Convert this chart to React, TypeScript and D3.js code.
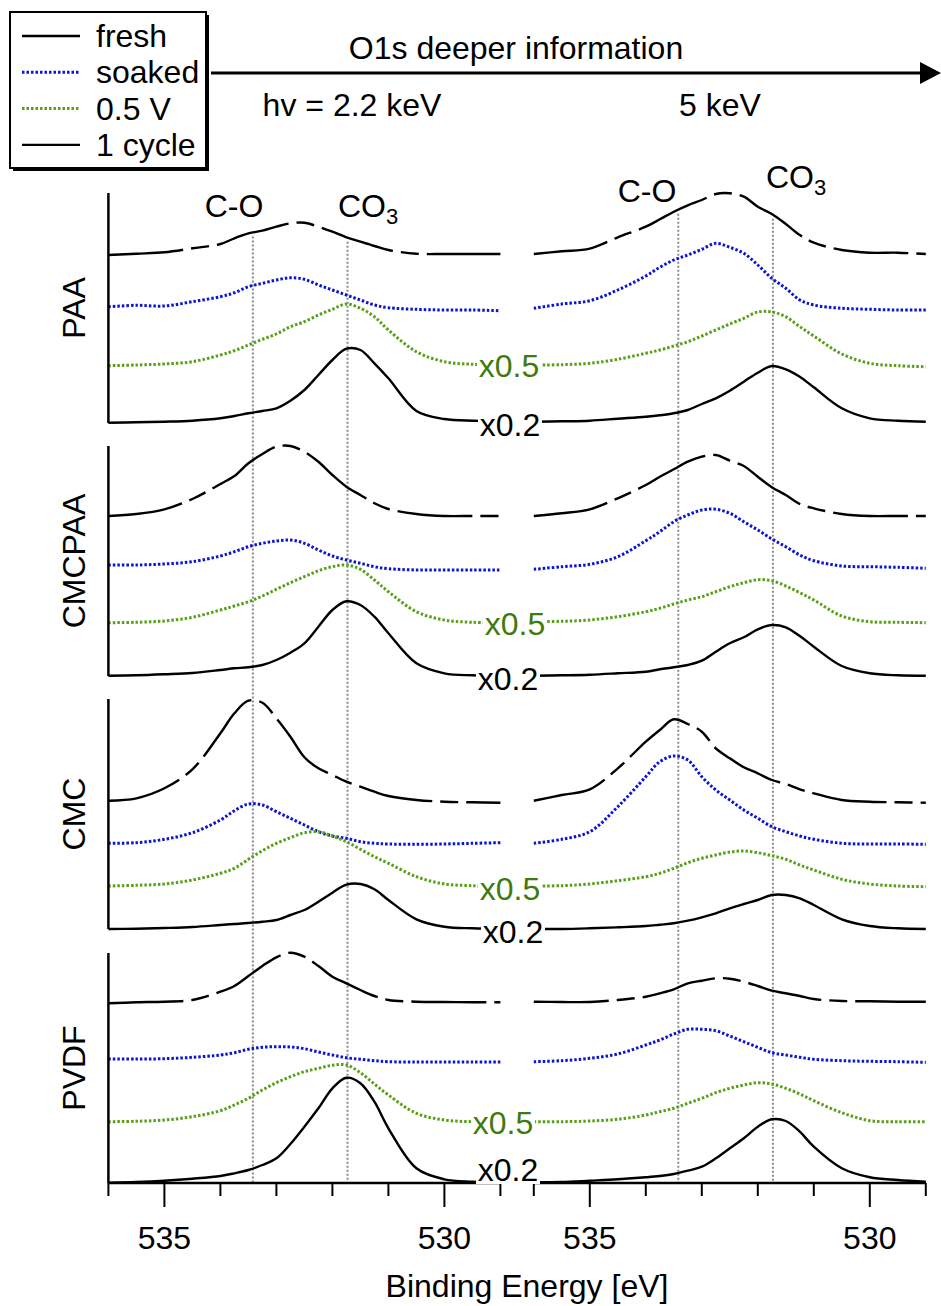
import React from 'react';
import * as d3 from 'd3';

// ---------- data ----------
const energies = [536, 535.5, 535, 534.5, 534, 533.75, 533.5, 533.25, 533, 532.75, 532.5, 532.25, 532, 531.75, 531.5, 531.25, 531, 530.5, 530, 529.5, 529];
const panelNames = ['PAA', 'CMCPAA', 'CMC', 'PVDF'];
const seriesNames = ['fresh', 'soaked', '0.5 V', '1 cycle'];
const photonLabels = ['hv = 2.2 keV', '5 keV'];
const depthLabel = 'O1s deeper information';
const xTicks = [536, 535, 534, 533, 532, 531, 530, 529];
const xMajorTicks = [535, 530];
const peakNames = ['C-O', 'CO'];
const peakEnergies = [533.42, 531.73];
const scaleLabels = ['x0.5', 'x0.2'];
const xTitle = 'Binding Energy [eV]';

// PAA, hv = 2.2 keV
const paaLowFresh = [168, 169.3, 170.7, 174.7, 179, 184.7, 189.7, 192.3, 196.3, 199.7, 200.3, 196.3, 191.3, 185.7, 181.3, 177, 173, 169.3, 169, 169, 169];
const paaLowSoaked = [116.3, 117.7, 117, 121.3, 126.3, 130.3, 136.3, 139.7, 143, 145.3, 143.7, 138, 133, 128, 123, 118, 115.3, 113.7, 113, 113, 112.3];
const paaLowV05 = [57.3, 58, 59, 61.3, 68, 72.3, 78, 83.7, 89, 96.3, 101.3, 108, 113.7, 119, 114.7, 106.3, 93, 71.3, 61.3, 58.7, 58];
const paaLowCycle = [0.3, 0.7, 1.3, 2.3, 4.7, 7, 9.7, 12, 14.7, 22.3, 33, 48, 63, 74.3, 73, 59.7, 44.7, 12, 4, 2.3, 2.3];
// PAA, 5 keV
const paaHighFresh = [169, 171.7, 174.3, 185.7, 196.3, 203.7, 211.3, 217.7, 223, 229, 229.7, 226.3, 216.3, 209, 199, 188, 180.3, 173, 170.3, 170.3, 169];
const paaHighSoaked = [114.7, 119, 122.3, 133, 147, 155.7, 163, 168, 173.7, 179.7, 175.7, 169.7, 158, 144.7, 134.7, 123, 118, 114.7, 113.7, 113, 113];
const paaHighV05 = [58, 58.3, 59.7, 63.7, 69.7, 73, 77, 81.3, 87, 93, 99, 104.7, 111, 111, 106.3, 96.3, 87, 69, 59.7, 57.3, 56.3];
const paaHighCycle = [1.3, 1.7, 2.3, 4.3, 6.3, 7.7, 9.7, 13, 19, 24.7, 32.3, 41.3, 50.3, 57, 53.7, 46.3, 35.7, 14.7, 4.7, 2.3, 1.3];
// CMCPAA, 2.2 keV
const cmcpaaLowFresh = [160, 162, 166.7, 177, 192, 200, 212.7, 222, 229.3, 230, 224.3, 214.3, 201, 189.3, 181, 172.7, 167, 162, 160, 160, 160];
const cmcpaaLowSoaked = [111, 111, 112, 114.3, 120, 124.3, 129.3, 132.7, 135, 136, 132.7, 126, 120, 116, 112.7, 109.3, 107.3, 106, 106, 106, 106];
const cmcpaaLowV05 = [53.3, 53.7, 55, 58.7, 66, 70, 74.3, 80, 86.7, 93.3, 99.3, 105.3, 109.3, 111, 106.7, 96, 84.3, 64.3, 56, 53.7, 53.3];
const cmcpaaLowCycle = [0.3, 0.7, 1.7, 3, 6, 7.7, 8.7, 11, 16, 23.3, 32.7, 49.3, 66, 74.7, 71, 59.3, 42.7, 12.7, 2.7, 0.7, 0.3];
// CMCPAA, 5 keV
const cmcpaaHighFresh = [160, 162.7, 166.7, 177.7, 191, 199.3, 206.7, 214.3, 219.3, 221, 215.3, 210, 199.3, 188.7, 181, 172, 167.7, 162, 160, 160, 160];
const cmcpaaHighSoaked = [106.7, 109.3, 111.7, 119.3, 135.3, 144.3, 154.3, 161, 166, 166.7, 162.7, 154.3, 146, 137, 129.3, 121, 115.3, 110, 109.3, 108.7, 107.7];
const cmcpaaHighV05 = [54.3, 54.7, 56, 59.3, 64.3, 67.7, 72, 76, 79.3, 84.3, 89.3, 93.3, 96.3, 95.3, 90, 83.3, 76, 60, 54.3, 53.7, 53.3];
const cmcpaaHighCycle = [0.3, 0.7, 1.3, 2.7, 4.3, 6.7, 8.7, 11, 15.3, 24.3, 32.7, 38.7, 46.7, 51, 48.7, 40, 29.3, 10, 2.7, 0.7, 0.3];
// CMC, 2.2 keV
const cmcLowFresh = [128.3, 130.7, 140.7, 159.7, 195.7, 215.7, 228.3, 226.3, 210.7, 192.3, 171.7, 160.7, 154, 147.3, 142.3, 137.3, 133, 129, 127.3, 126.7, 126.3];
const cmcLowSoaked = [85.7, 86.3, 89.7, 96.3, 109, 118.3, 125, 124, 117.3, 110.7, 104, 97.3, 93, 90.7, 87.3, 85.7, 85, 84.7, 85, 85.7, 86.3];
const cmcLowV05 = [43, 43.7, 45, 49, 55.7, 60.7, 69.7, 78.3, 85.7, 91.3, 96.3, 97.3, 93, 87.3, 79.7, 72.3, 65.7, 52.3, 45, 43.3, 42.3];
const cmcLowCycle = [0, 0.3, 1, 2, 4, 5, 6, 7.3, 9, 14, 19, 27.3, 36.3, 44.3, 45, 39.7, 29, 9.7, 2.3, 0.7, 0.3];
// CMC, 5 keV
const cmcHighFresh = [128.3, 134, 139.7, 160.7, 187.3, 199, 209.7, 205, 197.3, 180.7, 170.7, 161.7, 155.7, 149, 145, 139.7, 135.7, 129, 127.3, 126.7, 126.3];
const cmcHighSoaked = [85.7, 89.7, 97.3, 122.3, 152.3, 167.3, 173, 169, 152.3, 139, 129, 119, 110.7, 102.3, 97.3, 93, 89.7, 85.7, 85, 85, 84.7];
const cmcHighV05 = [43, 43.3, 45, 48.3, 52.3, 55.7, 60.7, 66.3, 70.7, 74, 77, 78, 76.3, 73.3, 69.7, 64, 59, 49.7, 45, 43, 42.3];
const cmcHighCycle = [0, 0, 0.7, 1.7, 3, 4.3, 5.7, 8.3, 11.7, 15.7, 20.7, 25, 29, 34, 34, 30.7, 24, 9.7, 3, 0.7, 0];
// PVDF, 2.2 keV
const pvdfLowFresh = [179.7, 180.7, 181.3, 183, 191.3, 197, 207, 217, 225.7, 230.3, 226.3, 217, 206.3, 199.7, 193, 187, 183, 181.3, 181, 180.7, 180.7];
const pvdfLowSoaked = [124, 124, 124.3, 125.7, 128, 130.3, 133.7, 135.7, 136.3, 136, 134.3, 131, 128, 125.3, 123.7, 122.3, 121.3, 121, 121, 121, 121];
const pvdfLowV05 = [61.3, 61.7, 63, 66.3, 72.3, 78, 84.7, 93, 100.3, 106.3, 111.3, 114.7, 117.7, 118, 110.3, 99, 88, 69.7, 63, 61.3, 61.3];
const pvdfLowCycle = [0.3, 1, 2.3, 4.3, 7, 9.7, 13, 18, 24.7, 39, 56.3, 74.7, 94.7, 105.3, 99.7, 81.3, 54.7, 14.7, 3.7, 1.3, 0.7];
// PVDF, 5 keV
const pvdfHighFresh = [181.3, 181, 181, 183, 186.3, 189.7, 193.7, 199.7, 202.3, 204.7, 204.3, 201.3, 197, 192.3, 189.7, 187, 184, 182, 181.7, 181.3, 181.3];
const pvdfHighSoaked = [121.3, 122.3, 124.7, 129, 138, 143, 149, 153.7, 153.7, 152.3, 147, 141.3, 135.7, 130.3, 128, 125.7, 123.7, 122.3, 121.7, 121.3, 120.7];
const pvdfHighV05 = [61.3, 61.3, 62, 63.7, 68, 71.3, 74.7, 79.7, 84.7, 90.3, 94.7, 98, 100.3, 99, 94.7, 89, 82.3, 70.3, 62.3, 61.3, 61.3];
const pvdfHighCycle = [0.7, 1, 2.3, 3.7, 5.7, 7, 9, 12.3, 16.3, 24.7, 34.7, 44.7, 56.3, 63.7, 62, 51.3, 36.3, 14.7, 5.7, 3, 1.3];

const panels = [
  { low: [paaLowFresh, paaLowSoaked, paaLowV05, paaLowCycle], high: [paaHighFresh, paaHighSoaked, paaHighV05, paaHighCycle] },
  { low: [cmcpaaLowFresh, cmcpaaLowSoaked, cmcpaaLowV05, cmcpaaLowCycle], high: [cmcpaaHighFresh, cmcpaaHighSoaked, cmcpaaHighV05, cmcpaaHighCycle] },
  { low: [cmcLowFresh, cmcLowSoaked, cmcLowV05, cmcLowCycle], high: [cmcHighFresh, cmcHighSoaked, cmcHighV05, cmcHighCycle] },
  { low: [pvdfLowFresh, pvdfLowSoaked, pvdfLowV05, pvdfLowCycle], high: [pvdfHighFresh, pvdfHighSoaked, pvdfHighV05, pvdfHighCycle] },
];

// ---------- layout ----------
const W = 941;
const H = 1306;
const panelBottoms = [423, 676, 929, 1183];
const panelHeight = 230;
const FONT = 'Arial, "Liberation Sans", Helvetica, sans-serif';
const FS = 32;

const xLow = d3.scaleLinear().domain([536, 529]).range([108.4, 500.4]);
const xHigh = d3.scaleLinear().domain([536, 529]).range([533.8, 925.8]);
const yScales = panelBottoms.map((b) => d3.scaleLinear().domain([0, panelHeight]).range([b, b - panelHeight]));

const seriesStyles = [
  { stroke: '#000000', width: 2.4, dash: '75,8,18,8' },
  { stroke: '#0a14d2', width: 3, dash: '2.5,2' },
  { stroke: '#58a018', width: 3, dash: '2.5,2' },
  { stroke: '#000000', width: 2.4, dash: undefined as string | undefined },
];
const labelGreen = '#3f7a0e';

function interp(vals: number[], e: number) {
  for (let i = 0; i < energies.length - 1; i++) {
    const a = energies[i], b = energies[i + 1];
    if (e <= a && e >= b) {
      const t = (a - e) / (a - b);
      return vals[i] + t * (vals[i + 1] - vals[i]);
    }
  }
  return vals[vals.length - 1];
}

// label centers (x, y) per panel: [x0.5, x0.2]
const labelPos = [
  [[509, 365], [510, 424]],
  [[515, 623], [508, 678]],
  [[510, 888], [513, 931]],
  [[503, 1122], [508, 1169]],
];

export default function App() {
  const makeLine = (xs: d3.ScaleLinear<number, number>, ys: d3.ScaleLinear<number, number>) =>
    d3
      .line<number>()
      .x((_, i) => xs(energies[i]))
      .y((d) => ys(d))
      .curve(d3.curveCatmullRom.alpha(0.5));

  const topY = yScales[0];
  const axisY = panelBottoms[3];

  return (
    <svg width={W} height={H} style={{ position: 'absolute', left: 0, top: 0, background: '#fff' }} fontFamily={FONT}>
      <rect x={0} y={0} width={W} height={H} fill="#fff" />

      {/* reference dotted lines */}
      {[xLow, xHigh].map((xs, si) =>
        peakEnergies.map((e, pi) => {
          const freshVals = si === 0 ? panels[0].low[0] : panels[0].high[0];
          const y0 = topY(interp(freshVals, e)) + 4;
          return (
            <line key={`ref-${si}-${pi}`} x1={xs(e)} x2={xs(e)} y1={y0} y2={axisY} stroke="#8a8a8a" strokeWidth={2} strokeDasharray="2,2" />
          );
        })
      )}

      {/* curves */}
      {panels.map((p, pi) => (
        <g key={`panel-${pi}`}>
          {[p.low, p.high].map((side, si) =>
            side.map((vals, k) => {
              const st = seriesStyles[k];
              const path = makeLine(si === 0 ? xLow : xHigh, yScales[pi])(vals) || '';
              return (
                <path key={`c-${si}-${k}`} d={path} fill="none" stroke={st.stroke} strokeWidth={st.width} strokeDasharray={st.dash} strokeLinejoin="round" />
              );
            })
          )}
          {/* left axis */}
          <line x1={xLow(536)} x2={xLow(536)} y1={panelBottoms[pi] - panelHeight} y2={panelBottoms[pi]} stroke="#000" strokeWidth={2.5} />
          {/* panel label */}
          <text
            transform={`translate(85, ${panelBottoms[pi] - panelHeight / 2}) rotate(-90)`}
            textAnchor="middle"
            fontSize={FS}
            fill="#000"
          >
            {panelNames[pi]}
          </text>
        </g>
      ))}

      {/* bottom axes */}
      {[xLow, xHigh].map((xs, si) => (
        <g key={`ax-${si}`}>
          <line x1={xs(536)} x2={xs(529)} y1={axisY} y2={axisY} stroke="#000" strokeWidth={2.5} />
          {xTicks.map((t) => (
            <line key={t} x1={xs(t)} x2={xs(t)} y1={axisY} y2={axisY + (xMajorTicks.includes(t) ? 24 : 13)} stroke="#000" strokeWidth={2} />
          ))}
          {xMajorTicks.map((t) => (
            <text key={`tl-${t}`} x={xs(t)} y={1249} textAnchor="middle" fontSize={FS} fill="#000">
              {t}
            </text>
          ))}
        </g>
      ))}
      <text x={527} y={1297} textAnchor="middle" fontSize={FS} fill="#000">
        {xTitle}
      </text>

      {/* scale labels */}
      {labelPos.map((pair, pi) =>
        pair.map(([cx, cy], li) => (
          <g key={`sl-${pi}-${li}`}>
            <rect x={cx - 32} y={cy - 15} width={64} height={30} fill="#fff" />
            <text x={cx} y={cy + 11.5} textAnchor="middle" fontSize={FS} fill={li === 0 ? labelGreen : '#000'}>
              {scaleLabels[li]}
            </text>
          </g>
        ))
      )}

      {/* peak labels */}
      <text x={234} y={217} textAnchor="middle" fontSize={FS}>{peakNames[0]}</text>
      <text x={338} y={217} fontSize={FS}>
        {peakNames[1]}
        <tspan dy={7} fontSize={22}>3</tspan>
      </text>
      <text x={647} y={202} textAnchor="middle" fontSize={FS}>{peakNames[0]}</text>
      <text x={766} y={188} fontSize={FS}>
        {peakNames[1]}
        <tspan dy={7} fontSize={22}>3</tspan>
      </text>

      {/* top arrow and labels */}
      <line x1={211} x2={924} y1={73} y2={73} stroke="#000" strokeWidth={3} />
      <polygon points="920,62 941,73 920,84" fill="#000" />
      <text x={516} y={59} textAnchor="middle" fontSize={FS}>{depthLabel}</text>
      <text x={352} y={116} textAnchor="middle" fontSize={FS}>{photonLabels[0]}</text>
      <text x={720} y={116} textAnchor="middle" fontSize={FS}>{photonLabels[1]}</text>

      {/* legend */}
      <rect x={13} y={15} width={196} height={156} fill="#000" />
      <rect x={10} y={12} width={196} height={156} fill="#fff" stroke="#000" strokeWidth={2} />
      {seriesNames.map((n, i) => {
        const y = 36 + i * 36.3;
        const st = seriesStyles[i];
        return (
          <g key={`lg-${i}`}>
            <line x1={22} x2={80} y1={y} y2={y} stroke={st.stroke} strokeWidth={st.width} strokeDasharray={i === 1 || i === 2 ? '2.5,2' : undefined} />
            <text x={96} y={y + 11} fontSize={FS} fill="#000">{n}</text>
          </g>
        );
      })}
    </svg>
  );
}
